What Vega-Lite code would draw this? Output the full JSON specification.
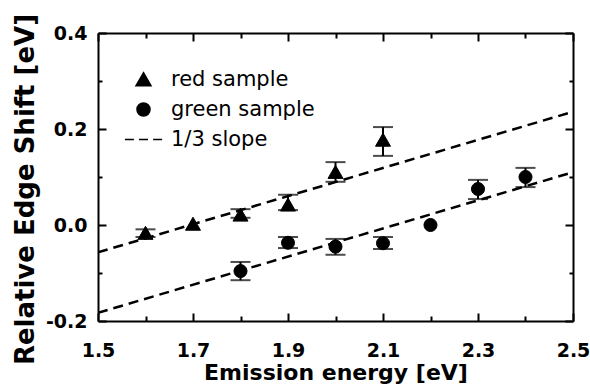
{
  "$schema": "https://vega.github.io/schema/vega-lite/v6.json",
  "width": 475,
  "height": 288,
  "autosize": {"type": "none"},
  "padding": {"left": 98, "top": 33, "right": 17, "bottom": 63},
  "background": "white",
  "config": {
    "view": {"stroke": null},
    "axis": {
      "grid": false,
      "domainColor": "black",
      "domainWidth": 2,
      "tickColor": "black",
      "tickWidth": 2,
      "labelColor": "black",
      "titleColor": "black",
      "labelFont": "DejaVu Sans",
      "labelFontWeight": "bold",
      "labelFontSize": 19,
      "titleFont": "DejaVu Sans",
      "titleFontWeight": "bold"
    },
    "legend": {
      "labelFont": "DejaVu Sans",
      "labelFontSize": 21,
      "labelColor": "black"
    }
  },
  "datasets": {
    "points": [
      {"x": 1.6, "y": -0.017, "lo": -0.025, "hi": -0.009, "series": "red sample"},
      {"x": 1.7, "y": 0.002, "lo": null, "hi": null, "series": "red sample"},
      {"x": 1.8, "y": 0.021, "lo": 0.015, "hi": 0.033, "series": "red sample"},
      {"x": 1.9, "y": 0.042, "lo": 0.031, "hi": 0.063, "series": "red sample"},
      {"x": 2.0, "y": 0.11, "lo": 0.09, "hi": 0.131, "series": "red sample"},
      {"x": 2.1, "y": 0.177, "lo": 0.144, "hi": 0.204, "series": "red sample"},
      {"x": 1.8, "y": -0.096, "lo": -0.115, "hi": -0.077, "series": "green sample"},
      {"x": 1.9, "y": -0.037, "lo": -0.048, "hi": -0.025, "series": "green sample"},
      {"x": 2.0, "y": -0.045, "lo": -0.062, "hi": -0.029, "series": "green sample"},
      {"x": 2.1, "y": -0.038, "lo": -0.05, "hi": -0.025, "series": "green sample"},
      {"x": 2.2, "y": 0.0, "lo": null, "hi": null, "series": "green sample"},
      {"x": 2.3, "y": 0.075, "lo": 0.054, "hi": 0.094, "series": "green sample"},
      {"x": 2.4, "y": 0.1, "lo": 0.079, "hi": 0.119, "series": "green sample"}
    ],
    "lines": [
      {"x": 1.5, "y": -0.057, "line": "red fit"},
      {"x": 2.5, "y": 0.236, "line": "red fit"},
      {"x": 1.5, "y": -0.183, "line": "green fit"},
      {"x": 2.5, "y": 0.110, "line": "green fit"}
    ]
  },
  "resolve": {"axis": {"x": "independent", "y": "independent"}},
  "layer": [
    {
      "data": {"name": "lines"},
      "mark": {"type": "line", "color": "black", "strokeWidth": 2.5, "strokeDash": [10, 6], "clip": true},
      "encoding": {
        "x": {
          "field": "x", "type": "quantitative",
          "scale": {"domain": [1.5, 2.5], "nice": false, "zero": false},
          "axis": {
            "orient": "bottom",
            "values": [1.5, 1.7, 1.9, 2.1, 2.3, 2.5],
            "format": ".1f",
            "ticks": false,
            "labelBaseline": "alphabetic",
            "labelPadding": 35,
            "labelFlush": false,
            "labelOverlap": false,
            "title": "Emission energy [eV]",
            "titleFontSize": 22,
            "titleBaseline": "alphabetic",
            "titleY": 58
          }
        },
        "y": {
          "field": "y", "type": "quantitative",
          "scale": {"domain": [-0.2, 0.4], "nice": false, "zero": false},
          "axis": {
            "orient": "left",
            "values": [-0.2, 0, 0.2, 0.4],
            "labelExpr": "replace(format(datum.value, '.1f'), '\u2212', '-')",
            "ticks": false,
            "labelPadding": 11,
            "labelFlush": false,
            "labelOverlap": false,
            "title": "Relative Edge Shift [eV]",
            "titleFontSize": 26,
            "titleBaseline": "alphabetic",
            "titleX": -65,
            "titleY": 156
          }
        },
        "detail": {"field": "line"}
      }
    },
    {
      "data": {"name": "points"},
      "transform": [{"filter": "isValid(datum.lo)"}],
      "mark": {"type": "rule", "color": "black", "strokeWidth": 2},
      "encoding": {
        "x": {"field": "x", "type": "quantitative",
          "axis": {"orient": "top", "offset": -288, "values": [1.5, 1.7, 1.9, 2.1, 2.3, 2.5], "labels": false, "domain": false, "tickSize": 8, "title": null}},
        "y": {"field": "lo", "type": "quantitative",
          "axis": {"orient": "right", "offset": -475, "values": [-0.2, 0, 0.2, 0.4], "labels": false, "domain": false, "tickSize": 8, "title": null}},
        "y2": {"field": "hi"}
      }
    },
    {
      "data": {"name": "points"},
      "transform": [{"filter": "isValid(datum.lo)"}],
      "mark": {"type": "tick", "color": "black", "orient": "horizontal", "size": 20, "thickness": 2},
      "encoding": {
        "x": {"field": "x", "type": "quantitative",
          "axis": {"orient": "top", "offset": -288, "values": [1.6, 1.8, 2.0, 2.2, 2.4], "labels": false, "domain": false, "tickSize": 5, "title": null}},
        "y": {"field": "lo", "type": "quantitative",
          "axis": {"orient": "right", "offset": -475, "values": [-0.1, 0.1, 0.3], "labels": false, "domain": false, "tickSize": 4, "title": null}}
      }
    },
    {
      "data": {"name": "points"},
      "transform": [{"filter": "isValid(datum.hi)"}],
      "mark": {"type": "tick", "color": "black", "orient": "horizontal", "size": 20, "thickness": 2},
      "encoding": {
        "x": {"field": "x", "type": "quantitative",
          "axis": {"orient": "bottom", "offset": -288, "values": [1.5, 1.7, 1.9, 2.1, 2.3, 2.5], "labels": false, "domain": true, "tickSize": 8, "title": null}},
        "y": {"field": "hi", "type": "quantitative",
          "axis": {"orient": "left", "offset": -475, "values": [-0.2, 0, 0.2, 0.4], "labels": false, "domain": true, "tickSize": 8, "title": null}}
      }
    },
    {
      "data": {"name": "points"},
      "mark": {"type": "point", "filled": true, "color": "black", "stroke": "black", "strokeWidth": 1, "opacity": 1, "size": 170},
      "encoding": {
        "x": {
          "field": "x", "type": "quantitative",
          "axis": {"orient": "bottom", "offset": -288, "values": [1.6, 1.8, 2.0, 2.2, 2.4], "labels": false, "domain": false, "tickSize": 5, "title": null}
        },
        "y": {
          "field": "y", "type": "quantitative",
          "axis": {"orient": "left", "offset": -475, "values": [-0.1, 0.1, 0.3], "labels": false, "domain": false, "tickSize": 4, "title": null}
        },
        "shape": {
          "field": "series", "type": "nominal",
          "scale": {
            "domain": ["red sample", "green sample", "1/3 slope"],
            "range": ["M0,-1.05L1.15,0.95L-1.15,0.95Z", "circle", "M-2.85,0H-1.47M-0.69,0H0.69M1.47,0H2.85"]
          },
          "legend": {
            "title": null,
            "orient": "none",
            "legendX": 35,
            "legendY": 36,
            "padding": 0,
            "labelOffset": 17,
            "rowPadding": 8,
            "symbolSize": 170,
            "encode": {
              "symbols": {
                "update": {
                  "stroke": {"value": "black"},
                  "strokeWidth": {"value": 2},
                  "fill": {"value": "black"},
                  "opacity": {"value": 1}
                }
              }
            }
          }
        }
      }
    }
  ]
}
